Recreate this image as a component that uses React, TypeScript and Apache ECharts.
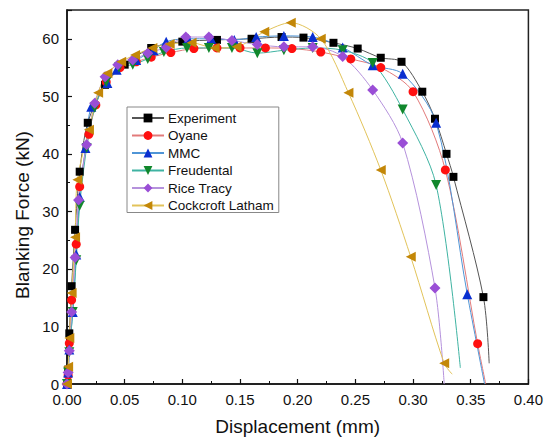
import React, { useEffect, useRef } from "react";
import * as echarts from "echarts";

const seriesNames = ["Experiment", "Oyane", "MMC", "Freudental", "Rice Tracy", "Cockcroft Latham"];

// [x (mm), force (kN)] — last point of each list is the unmarked tail of the curve
const experiment: number[][] = [
  [0, 0], [0.001, 2.5], [0.002, 8.8], [0.004, 17], [0.007, 26.8], [0.011, 36.9], [0.018, 45.4],
  [0.033, 52], [0.05, 55.5], [0.073, 58.4], [0.1, 59.5], [0.13, 59.8], [0.16, 60], [0.186, 60.3],
  [0.205, 60.2], [0.231, 59.3], [0.252, 58.3], [0.272, 56.7], [0.29, 56], [0.308, 50.8],
  [0.319, 46.1], [0.329, 40], [0.335, 36], [0.361, 15.1], [0.366, 3.6],
];
const oyane: number[][] = [
  [0, 0], [0.001, 1.5], [0.002, 7.1], [0.004, 14.6], [0.008, 24.3], [0.011, 34.3], [0.019, 43.4],
  [0.025, 48.5], [0.034, 52.5], [0.046, 55], [0.06, 56], [0.073, 56.8], [0.09, 57.6], [0.11, 58.3],
  [0.13, 58.4], [0.15, 58.4], [0.172, 58.4], [0.195, 58.3], [0.22, 57.7], [0.246, 56.5],
  [0.272, 55], [0.3, 50.8], [0.328, 37.2], [0.356, 7], [0.363, 0],
];
const mmc: number[][] = [
  [0, 0], [0.001, 2], [0.002, 6], [0.005, 12.5], [0.008, 22.5], [0.011, 32.5], [0.016, 41],
  [0.021, 48.2], [0.035, 52.3], [0.043, 54.6], [0.06, 56.3], [0.075, 58], [0.086, 59.5],
  [0.105, 60], [0.125, 60], [0.145, 59.8], [0.164, 60.3], [0.188, 60.5], [0.213, 60.3],
  [0.239, 58.5], [0.265, 55.4], [0.291, 53.9], [0.32, 45.4], [0.347, 15.6], [0.362, 0],
];
const freudental: number[][] = [
  [0, 0], [0.001, 2], [0.002, 5.5], [0.005, 12.5], [0.008, 21.5], [0.011, 31], [0.017, 41],
  [0.024, 48], [0.034, 52.5], [0.045, 55], [0.057, 55.5], [0.07, 56.5], [0.084, 57.7],
  [0.104, 58.4], [0.123, 58.4], [0.143, 58.4], [0.165, 57.5], [0.188, 58], [0.213, 58.4],
  [0.239, 58], [0.265, 55.8], [0.291, 47.7], [0.32, 34.6], [0.341, 2.8],
];
const riceTracy: number[][] = [
  [0, 0], [0.001, 2], [0.002, 5.8], [0.004, 12.5], [0.007, 22], [0.01, 32], [0.017, 41.6],
  [0.024, 48.8], [0.033, 53.4], [0.044, 55.5], [0.057, 56.3], [0.07, 57.5], [0.086, 58.5],
  [0.103, 60.3], [0.123, 60.3], [0.143, 59.7], [0.165, 59], [0.188, 58.6], [0.213, 58.6],
  [0.239, 56.9], [0.265, 51.1], [0.291, 41.9], [0.319, 16.7], [0.327, 0],
];
const cockcroftLatham: number[][] = [
  [0, 0], [0.001, 3], [0.002, 8], [0.004, 15.8], [0.007, 25.5], [0.009, 35.5], [0.019, 44.2],
  [0.027, 50.6], [0.035, 54], [0.047, 56], [0.059, 57.2], [0.074, 58.4], [0.089, 59.1],
  [0.108, 59.3], [0.128, 58.4], [0.147, 58.6], [0.171, 61.2], [0.194, 62.8], [0.22, 60],
  [0.244, 50.6], [0.272, 37.2], [0.298, 22.1], [0.327, 3.6], [0.334, 1.7],
];

const xTitle = "Displacement (mm)";
const yTitle = "Blanking Force (kN)";

const allData = [experiment, oyane, mmc, freudental, riceTracy, cockcroftLatham];
const markerColors = ["#000000", "#ff1010", "#0a2fd0", "#11872c", "#9a4ed6", "#c38708"];
const lineColors = ["#555555", "#e27a7a", "#4f95d6", "#3fb3a2", "#b592dc", "#e2c35a"];
const symbols = ["rect", "circle", "triangle", "triangle", "diamond", "triangle"];
const symbolRotates = [0, 0, 0, 180, 0, 90];
const symbolSizes = [8, 9, 10, 10, 11, 10];

const FONT = "Liberation Sans, Arial, sans-serif";

export default function App() {
  const ref = useRef<HTMLDivElement>(null);
  useEffect(() => {
    if (!ref.current) return;
    const chart = echarts.init(ref.current, undefined, { renderer: "svg" });
    const series = seriesNames.map((name, i) => ({
      name,
      type: "line",
      smooth: 0.3,
      symbol: symbols[i],
      symbolRotate: symbolRotates[i],
      symbolSize: symbolSizes[i],
      showAllSymbol: true,
      lineStyle: { color: lineColors[i], width: 1 },
      itemStyle: { color: markerColors[i] },
      data: allData[i].map((p, j) =>
        j === allData[i].length - 1 ? { value: p, symbol: "none" } : { value: p }
      ),
    }));
    chart.setOption({
      animation: false,
      backgroundColor: "#ffffff",
      textStyle: { fontFamily: FONT },
      grid: {
        left: 67, right: 14, top: 10, bottom: 57,
        show: true, borderColor: "#222", borderWidth: 1.5, backgroundColor: "transparent",
      },
      graphic: [
        {
          type: "text",
          x: 22,
          y: 215,
          rotation: Math.PI / 2,
          style: {
            text: yTitle,
            fontSize: 19,
            fontFamily: FONT,
            fill: "#111",
            align: "center",
            verticalAlign: "middle",
          },
        },
      ],
      legend: {
        orient: "vertical",
        left: 127,
        top: 107,
        padding: [4, 5, 0, 4],
        itemGap: 3.5,
        itemWidth: 32,
        itemHeight: 11,
        borderColor: "#888",
        borderWidth: 1,
        textStyle: { fontSize: 13.5, lineHeight: 11, color: "#111", fontFamily: FONT, padding: [0, 0, 0, -1] },
        data: seriesNames,
      },
      xAxis: {
        type: "value",
        min: 0,
        max: 0.4,
        interval: 0.05,
        name: xTitle,
        nameLocation: "middle",
        nameGap: 33,
        nameTextStyle: { fontSize: 19, color: "#111", fontFamily: FONT },
        axisLine: { onZero: false, lineStyle: { color: "#111", width: 1.5 } },
        axisTick: { inside: true, length: 5, lineStyle: { color: "#111", width: 1.2 } },
        minorTick: { show: true, splitNumber: 2, length: 3, lineStyle: { color: "#111", width: 1 } },
        axisLabel: {
          fontSize: 15, color: "#111", margin: 8,
          formatter: (v: number) => v.toFixed(2),
        },
        splitLine: { show: false },
      },
      yAxis: {
        type: "value",
        min: 0,
        max: 65,
        interval: 10,
        axisLine: { onZero: false, lineStyle: { color: "#111", width: 1.5 } },
        axisTick: { inside: true, length: 5, lineStyle: { color: "#111", width: 1.2 } },
        minorTick: { show: true, splitNumber: 2, length: 3, lineStyle: { color: "#111", width: 1 } },
        axisLabel: {
          fontSize: 15, color: "#111", margin: 8,
          formatter: (v: number) => (v % 10 === 0 ? String(v) : ""),
        },
        splitLine: { show: false },
      },
      series,
    });
    return () => chart.dispose();
  }, []);
  return (
    <div
      ref={ref}
      style={{ position: "fixed", left: 0, top: 0, width: 546, height: 441, background: "#fff" }}
    />
  );
}
